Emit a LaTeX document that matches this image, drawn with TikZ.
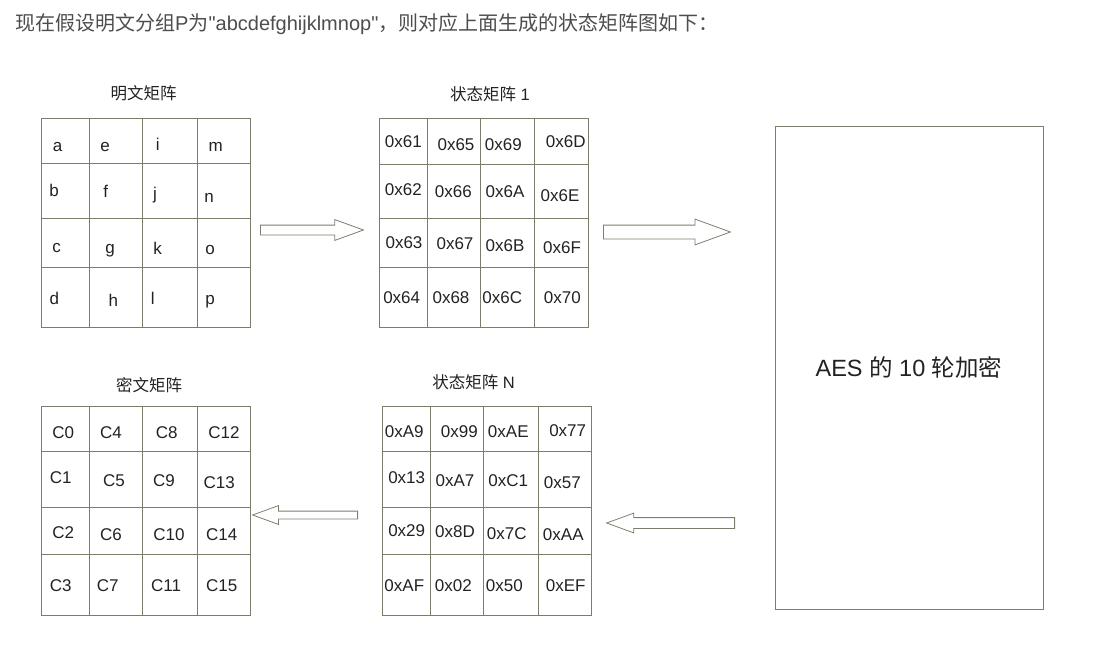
\documentclass[tikz,border=0pt]{standalone}
\usepackage{fontspec}
\setmainfont{Liberation Sans}
\newfontfamily\plainsans{Liberation Sans}
\newfontfamily\cjk{Noto Sans CJK SC}
\usetikzlibrary{shapes.arrows}
\definecolor{myGrid}{RGB}{125,125,108}
\definecolor{myText}{RGB}{77,77,77}
\definecolor{myInk}{RGB}{34,34,34}

\begin{document}
\begin{tikzpicture}[x=1pt, y=-1pt,
  gridline/.style={draw=myGrid, line width=1pt},
  matframe/.style={gridline, inner sep=0pt, minimum width=209pt, minimum height=209pt},
  cell/.style={font=\fontsize{17}{20}\selectfont, text=myInk, inner sep=0pt,
    text height=12pt, text depth=0pt},
  heading/.style={font=\fontsize{16.5}{20}\selectfont, text=myInk, inner sep=0pt},
  blockarrow/.style={single arrow, draw=myGrid, line width=0.8pt, inner xsep=0pt,
    single arrow head indent=0pt, single arrow tip angle=40, anchor=tail},
]
  \useasboundingbox (0,0) rectangle (1097,648);

  \node[anchor=west, font=\fontsize{20}{24}\selectfont, text=myText, inner sep=0pt] (intro) at (15,24)
    {{\cjk 现在假设明文分组}P{\cjk 为}{\plainsans "abcdefghijklmnop"}{\cjk ，则对应上面生成的状态矩阵图如下：}};

  % plaintext matrix
  \node[heading] (plainTitle) at (143.5,93) {\cjk 明文矩阵};
  \node[matframe] (plain) at (145.5,222.5) {};
  \foreach \x in {89,142,197} \draw[gridline] (\x,118) -- (\x,327);
  \foreach \y in {163,218,267} \draw[gridline] (41,\y) -- (250,\y);
  \foreach \px/\py/\txt [count=\i] in {
      57.7/145/a, 105/145/e, 157.7/144/i, 215.7/145/m,
      54/190/b, 105.7/191.7/f, 155/193/j, 209/196/n,
      56.7/246.7/c, 110/247/g, 157.7/248/k, 210/248/o,
      54.3/298/d, 113.3/300/h, 152.7/298/l, 210/298/p}
    \node[cell] (p\i) at (\px,\py) {\txt};

  % state matrix 1
  \node[heading] (stateOneTitle) at (490,94) {{\cjk 状态矩阵} 1};
  \node[matframe] (stateOne) at (483.5,222.5) {};
  \foreach \x in {427,480,534} \draw[gridline] (\x,118) -- (\x,327);
  \foreach \y in {164,218,267} \draw[gridline] (379,\y) -- (588,\y);
  \foreach \px/\py/\txt [count=\i] in {
      403.3/141.7/0x61, 456/144/0x65, 503.3/144/0x69, 565.7/141.7/0x6D,
      403.3/189.3/0x62, 453.3/191.7/0x66, 505/191.7/0x6A, 560/195/0x6E,
      404/242.5/0x63, 455/243.3/0x67, 505/245/0x6B, 562/247/0x6F,
      401.7/297.3/0x64, 451/297.3/0x68, 502.3/297.3/0x6C, 562.3/297.3/0x70}
    \node[cell] (s\i) at (\px,\py) {\txt};

  % ciphertext matrix
  \node[heading] (cipherTitle) at (149,385) {\cjk 密文矩阵};
  \node[matframe] (cipher) at (146,510.5) {};
  \foreach \x in {89,142,197} \draw[gridline] (\x,406) -- (\x,615);
  \foreach \y in {451,507,554} \draw[gridline] (41.5,\y) -- (250.5,\y);
  \foreach \px/\py/\txt [count=\i] in {
      63.3/432.3/C0, 111/432.3/C4, 166.7/432.3/C8, 224/432.3/C12,
      60.7/477.3/C1, 114/480/C5, 164/480/C9, 219.3/482.7/C13,
      63.3/532.7/C2, 111/534.3/C6, 169/534.3/C10, 221.7/534.3/C14,
      60.7/585/C3, 107.7/585/C7, 166/585/C11, 221.7/585/C15}
    \node[cell] (c\i) at (\px,\py) {\txt};

  % state matrix N
  \node[heading] (stateNTitle) at (473.5,382) {{\cjk 状态矩阵} N};
  \node[matframe] (stateN) at (486.5,510.5) {};
  \foreach \x in {430,483,538} \draw[gridline] (\x,406) -- (\x,615);
  \foreach \y in {451,507,554} \draw[gridline] (382,\y) -- (591,\y);
  \foreach \px/\py/\txt [count=\i] in {
      404.3/431/0xA9, 459.3/431.7/0x99, 508.3/431.7/0xAE, 567.7/430/0x77,
      406.7/477.3/0x13, 455/480/0xA7, 508.3/480/0xC1, 562.3/482.7/0x57,
      406.7/530.7/0x29, 455/531.7/0x8D, 506.7/533.3/0x7C, 563.3/534/0xAA,
      404.3/585/0xAF, 453.3/585/0x02, 504.3/585/0x50, 565.7/585/0xEF}
    \node[cell] (n\i) at (\px,\py) {\txt};

  % ten rounds
  \node[gridline, inner sep=0pt, minimum width=268pt, minimum height=483pt,
    font=\fontsize{23.5}{28}\selectfont, text=myInk] (rounds) at (909,367.5)
    {AES {\cjk 的} 10 {\cjk 轮加密}};

  % block arrows
  \node[blockarrow, minimum height=103pt, inner ysep=4.5pt, single arrow head extend=5.5pt]
    (toStateOne) at (260,230) {};
  \node[blockarrow, minimum height=127pt, inner ysep=6.5pt, single arrow head extend=6pt]
    (toRounds) at (603,232) {};
  \node[blockarrow, minimum height=128pt, inner ysep=5pt, single arrow head extend=4.5pt,
    shape border rotate=180] (toStateN) at (735,523) {};
  \node[blockarrow, minimum height=105pt, inner ysep=3.5pt, single arrow head extend=5.5pt,
    shape border rotate=180] (toCipher) at (358,515) {};
\end{tikzpicture}
\end{document}
